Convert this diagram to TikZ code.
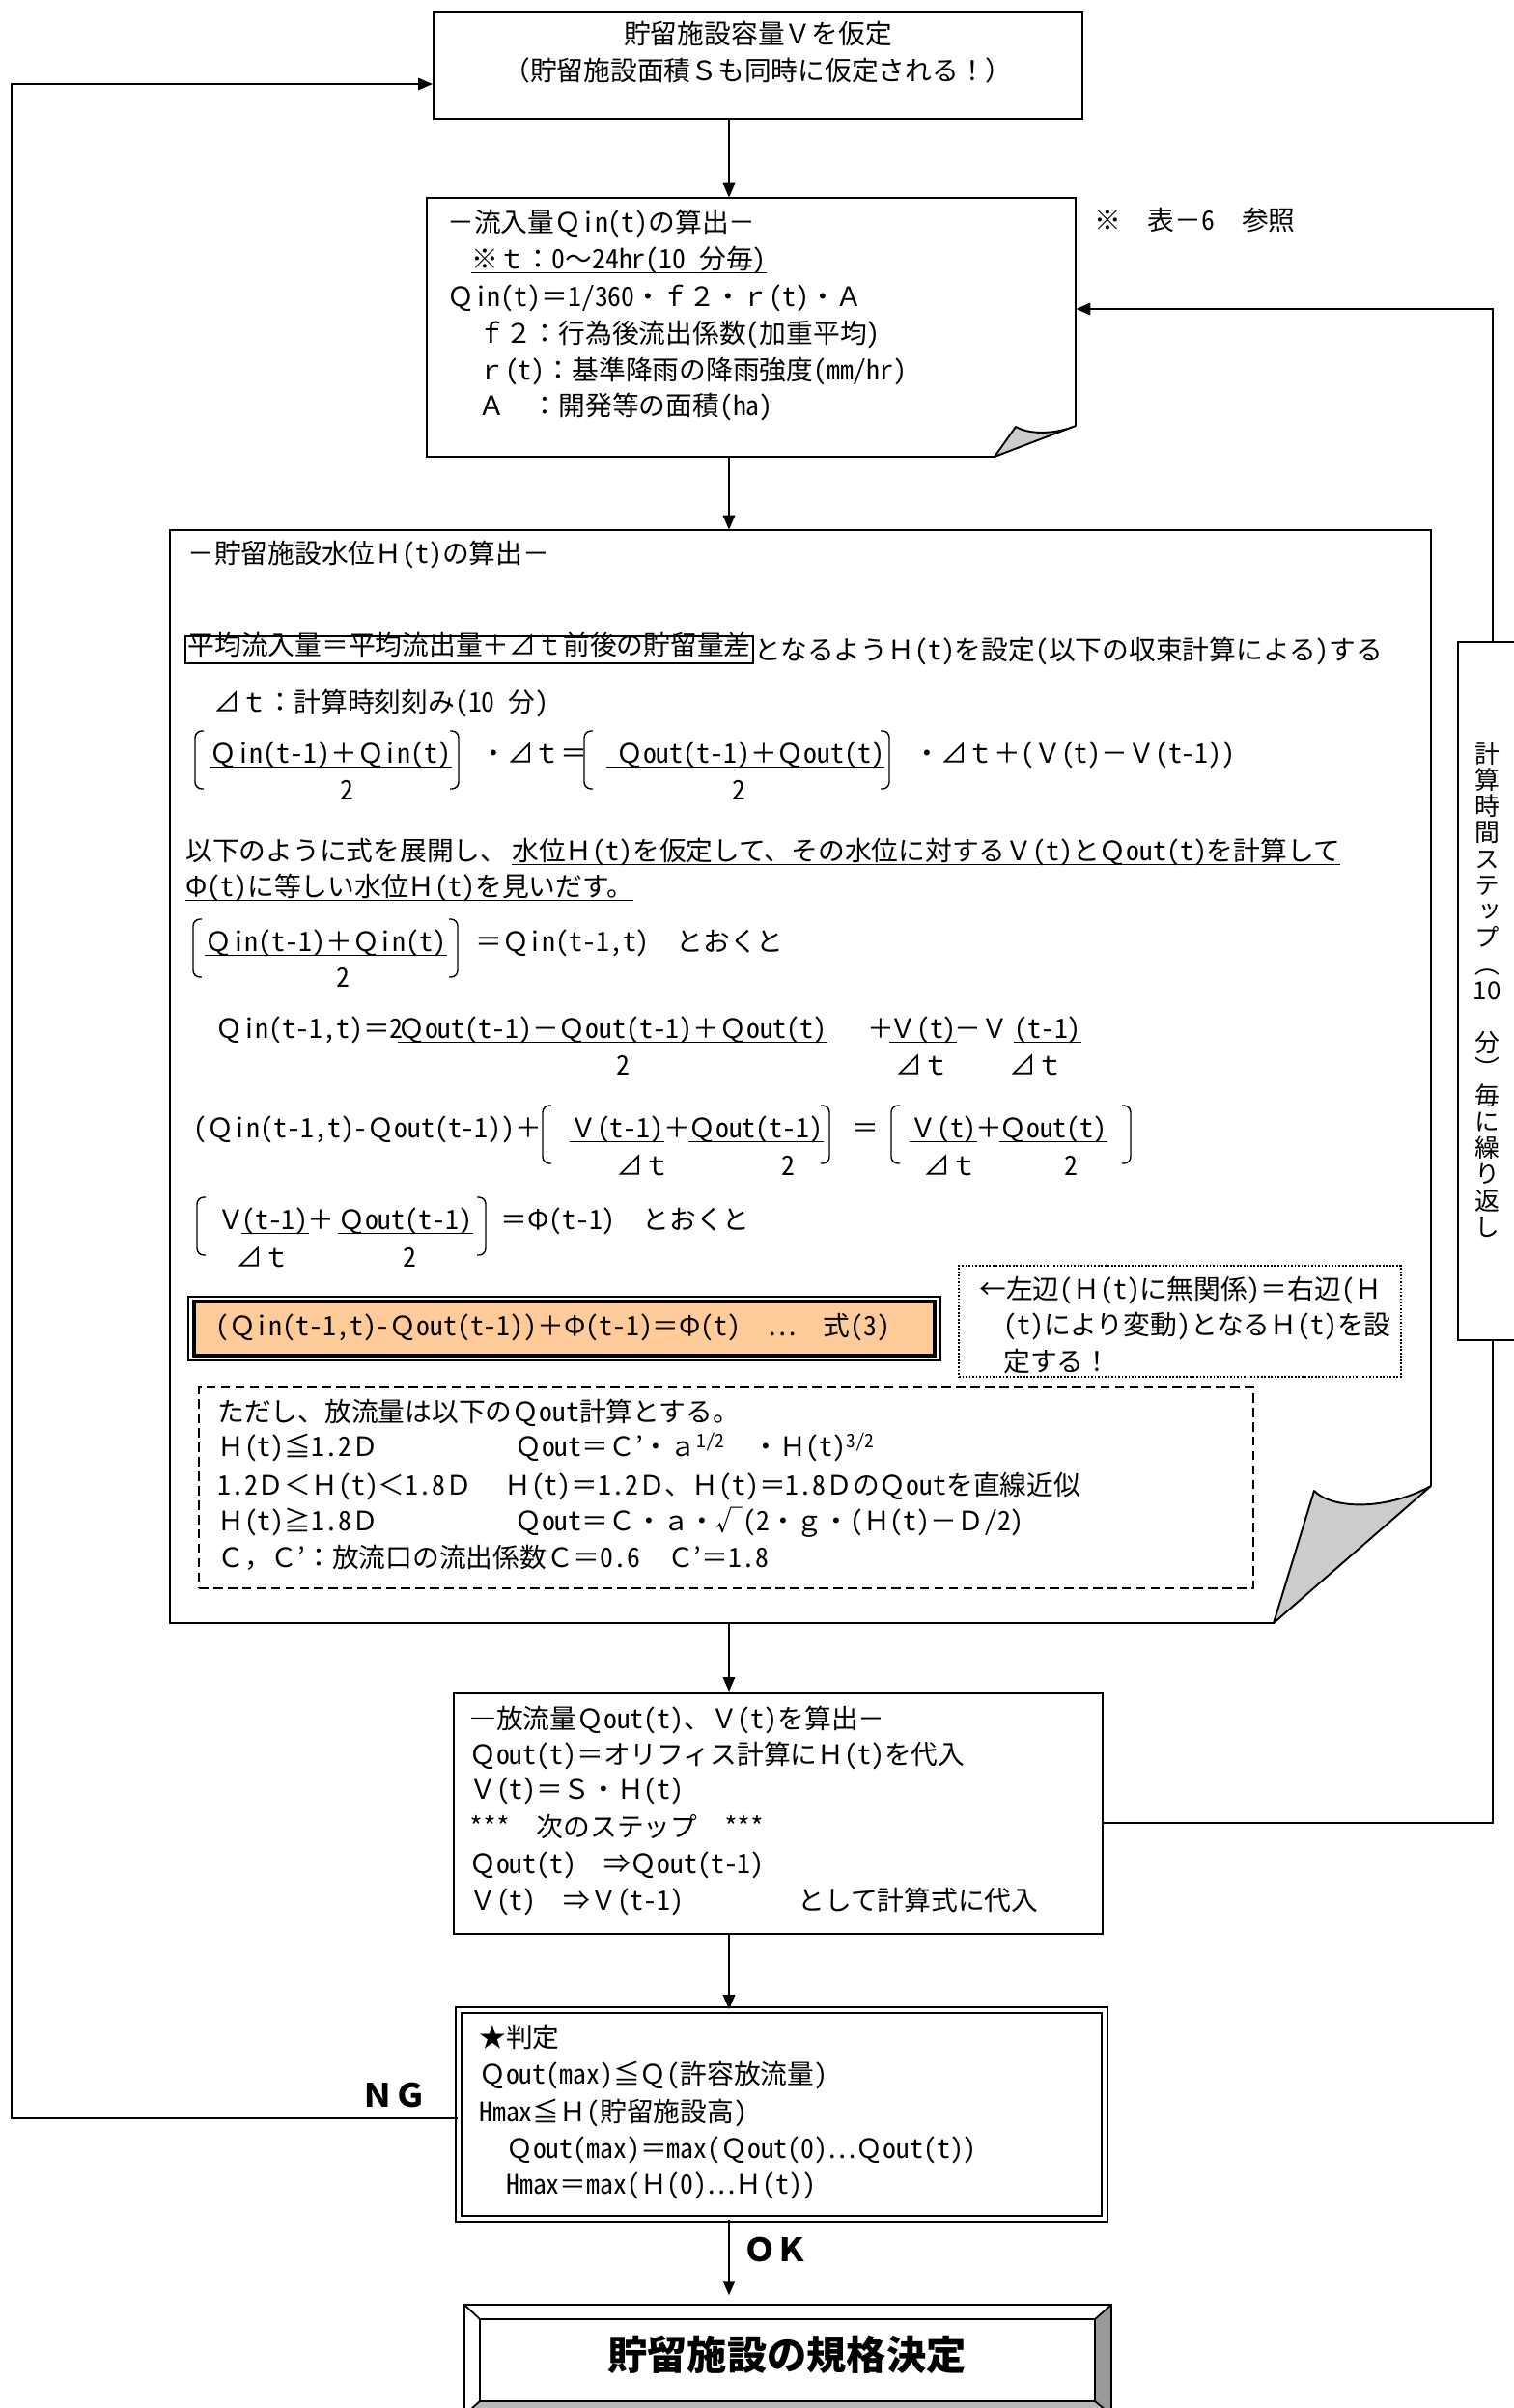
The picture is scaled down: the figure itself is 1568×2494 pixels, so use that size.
\documentclass[tikz,border=0pt]{standalone}
\usepackage{fontspec}
\setmainfont{Noto Sans CJK JP}
\newfontfamily\vertfont[RawFeature=+vert]{Noto Sans CJK JP}
\newfontfamily\hwfont[RawFeature=+hwid]{Noto Sans CJK JP}
\usetikzlibrary{arrows.meta,positioning,fit}
\definecolor{peach}{HTML}{FFCC99}
\newcommand{\bodyfont}{\fontsize{15.8pt}{21.8pt}\selectfont}
\newcommand{\hw}[1]{{\hwfont #1}}
\newcommand{\lbrk}[2]{\draw[brk] (#1+9,#2-23) -- (#1,#2-23) -- (#1,#2+37) -- (#1+9,#2+37);}
\newcommand{\rbrk}[2]{\draw[brk] (#1-9,#2-23) -- (#1,#2-23) -- (#1,#2+37) -- (#1-9,#2+37);}

\begin{document}
\begin{tikzpicture}[x=0.02cm, y=-0.02cm]

\tikzstyle{box}=[draw, line width=1.1pt, inner sep=0pt]
\tikzstyle{frame}=[inner sep=0pt]
\tikzstyle{txt}=[anchor=west, inner sep=0pt, text height=0.8em, text depth=0.2em, yshift=-3pt, font=\bodyfont]
\tikzstyle{ctr}=[txt, anchor=center]
\tikzstyle{ul}=[append after command={(\tikzlastnode.south west) edge[draw, line width=0.9pt] (\tikzlastnode.south east)}]
\tikzstyle{arrow}=[-{Triangle[length=8.5pt,width=7pt]}, line width=1.2pt]
\tikzstyle{brk}=[line width=0.8pt, rounded corners=4pt]
\tikzstyle{fold}=[draw, line width=1.1pt, fill=gray!40, line join=round]
\tikzstyle{sign}=[inner sep=0pt, font=\fontsize{19pt}{22pt}\selectfont\bfseries]

\fill[white] (0,0) rectangle (1568,2494);
\path[use as bounding box] (0,0) rectangle (1568,2494);

\coordinate (spine) at (755,0);

\node (assume) [box, fit={(449,12) (1121,123)}] {};
\node (assume1) [ctr] at (785,35) {貯留施設容量Ｖを仮定};
\node (assume2) [ctr] at (785,73) {（貯留施設面積Ｓも同時に仮定される！）};

\node (inflow) [frame, fit={(442,205) (1114,473)}] {};
\draw[line width=1.1pt] (1114,441) -- (1114,205) -- (442,205) -- (442,473) -- (1030,473);
\draw[fold] (1030,473) -- (1052,442) .. controls (1068,451) and (1095,449) .. (1114,441) -- cycle;
\node (in1) [txt] at (463,230) {－流入量Ｑ\hw{in(t)}の算出－};
\node (in2) [txt, ul] at (488,268) {※ｔ：\hw{0}～\hw{24hr(10 }分毎\hw{)}};
\node (in3) [txt] at (463,307) {Ｑ\hw{in(t)}＝\hw{1/360}・ｆ２・ｒ\hw{(t)}・Ａ};
\node (in4) [txt] at (495,345) {ｆ２：行為後流出係数\hw{(}加重平均\hw{)}};
\node (in5) [txt] at (495,383) {ｒ\hw{(t)}：基準降雨の降雨強度\hw{(mm/hr)}};
\node (in6) [txt] at (495,420) {Ａ　：開発等の面積\hw{(ha)}};
\node (tabref) [txt] at (1133,228) {※　表－\hw{6}　参照};

\node (level) [frame, fit={(176,549) (1482,1681)}] {};
\draw[line width=1.1pt] (1482,1539) -- (1482,549) -- (176,549) -- (176,1681) -- (1319,1681);
\draw[fold] (1319,1681) -- (1361,1544) .. controls (1378,1562) and (1432,1566) .. (1482,1539) -- cycle;

\node (lv1) [txt] at (194,573) {－貯留施設水位Ｈ\hw{(t)}の算出－};
\node (balance) [txt, draw, line width=1.1pt, inner xsep=1.5pt, inner ysep=3pt] at (191,668) {平均流入量＝平均流出量＋⊿ｔ前後の貯留量差};
\node (balance2) [txt, right=0pt of balance] {となるようＨ\hw{(t)}を設定\hw{(}以下の収束計算による\hw{)}する};
\node (dt) [txt] at (221,727) {⊿ｔ：計算時刻刻み\hw{(10 }分\hw{)}};

\node (f1a) [txt, ul] at (217,780) {Ｑ\hw{in(t-1)}＋Ｑ\hw{in(t)}};
\node (f1a2) [ctr] at (359,818) {\hw{2}};
\node (f1b) [txt] at (497,780) {・⊿ｔ＝};
\node (f1c) [txt, ul] at (628,780) {\hspace{0.2cm}Ｑ\hw{out(t-1)}＋Ｑ\hw{out(t)}};
\node (f1c2) [ctr] at (765,818) {\hw{2}};
\node (f1d) [txt] at (946,780) {・⊿ｔ＋\hw{(}Ｖ\hw{(t)}－Ｖ\hw{(t-1))}};
\lbrk{202}{780} \rbrk{475}{780} \lbrk{605}{780} \rbrk{921}{780}

\node (ex1) [txt] at (192,881) {以下のように式を展開し、};
\node (ex2) [txt, ul] at (530,881) {水位Ｈ\hw{(t)}を仮定して、その水位に対するＶ\hw{(t)}とＱ\hw{out(t)}を計算して};
\node (ex3) [txt, ul] at (192,918) {Φ\hw{(t)}に等しい水位Ｈ\hw{(t)}を見いだす。};

\node (f2a) [txt, ul] at (212,975) {Ｑ\hw{in(t-1)}＋Ｑ\hw{in(t)}};
\node (f2a2) [ctr] at (355,1012) {\hw{2}};
\node (f2b) [txt] at (492,975) {＝Ｑ\hw{in(t-1,t)}　とおくと};
\lbrk{200}{975} \rbrk{474}{975}

\node (f3a) [txt] at (223,1065) {Ｑ\hw{in(t-1,t)}＝\hw{2}};
\node (f3b) [txt, ul] at (412,1065) {Ｑ\hw{out(t-1)}－Ｑ\hw{out(t-1)}＋Ｑ\hw{out(t)}\hspace{0.4cm}};
\node (f3b2) [ctr] at (645,1103) {\hw{2}};
\node (f3c) [txt] at (898,1065) {＋};
\node (f3d) [txt, ul] at (921,1065) {Ｖ\hw{(t)}};
\node (f3d2) [ctr] at (955,1103) {⊿ｔ};
\node (f3e) [txt] at (988,1065) {－Ｖ};
\node (f3f) [txt, ul] at (1050,1065) {\hw{(t-1)}};
\node (f3f2) [ctr] at (1073,1103) {⊿ｔ};

\node (f4a) [txt] at (200,1168) {\hw{(}Ｑ\hw{in(t-1,t)-}Ｑ\hw{out(t-1))}＋};
\node (f4b) [txt, ul] at (590,1168) {Ｖ\hw{(t-1)}};
\node (f4b2) [ctr] at (666,1207) {⊿ｔ};
\node (f4c) [txt] at (687,1168) {＋};
\node (f4d) [txt, ul] at (713,1168) {Ｑ\hw{out(t-1)}};
\node (f4d2) [ctr] at (816,1207) {\hw{2}};
\node (f4e) [txt] at (882,1168) {＝};
\node (f4f) [txt, ul] at (942,1168) {Ｖ\hw{(t)}};
\node (f4f2) [ctr] at (984,1207) {⊿ｔ};
\node (f4g) [txt] at (1010,1168) {＋};
\node (f4h) [txt, ul] at (1035,1168) {Ｑ\hw{out(t)}};
\node (f4h2) [ctr] at (1109,1207) {\hw{2}};
\lbrk{562}{1168} \rbrk{859}{1168} \lbrk{923}{1168} \rbrk{1171}{1168}

\node (f5a) [txt] at (225,1263) {Ｖ};
\node (f5b) [txt, ul] at (250,1263) {\hw{(t-1)}};
\node (f5b2) [ctr] at (272,1302) {⊿ｔ};
\node (f5c) [txt] at (318,1263) {＋};
\node (f5d) [txt, ul] at (350,1263) {Ｑ\hw{out(t-1)}};
\node (f5d2) [ctr] at (424,1302) {\hw{2}};
\node (f5e) [txt] at (518,1263) {＝Φ\hw{(t-1)}　とおくと};
\lbrk{204}{1263} \rbrk{503}{1263}

\node (key) [box, line width=0.8pt, fit={(195,1343) (974,1409)}] {};
\draw[line width=2pt, fill=peach] (201,1348) rectangle (968,1404);
\node (keytxt) [txt] at (223,1373) {\hw{(}Ｑ\hw{in(t-1,t)-}Ｑ\hw{out(t-1))}＋Φ\hw{(t-1)}＝Φ\hw{(t)}　⋯　式\hw{(3)}};

\node (note) [box, line width=0.8pt, dash pattern=on 1pt off 1pt, fit={(993,1311) (1451,1426)}] {};
\node (note1) [txt] at (1014,1335) {←左辺\hw{(}Ｈ\hw{(t)}に無関係\hw{)}＝右辺\hw{(}Ｈ};
\node (note2) [txt] at (1039,1372) {\hw{(t)}により変動\hw{)}となるＨ\hw{(t)}を設};
\node (note3) [txt] at (1039,1410) {定する！};

\node (rule) [box, line width=1pt, dash pattern=on 5.5pt off 3pt, fit={(206,1437) (1298,1645)}] {};
\node (rule1) [txt] at (225,1462) {ただし、放流量は以下のＱ\hw{out}計算とする。};
\node (rule2) [txt] at (225,1498) {Ｈ\hw{(t)}≦\hw{1.2}Ｄ};
\node (rule2b) [txt] at (533,1498) {Ｑ\hw{out}＝Ｃ’・ａ\textsuperscript{\hw{1/2}}　・Ｈ\hw{(t)}\textsuperscript{\hw{3/2}}};
\node (rule3) [txt] at (225,1538) {\hw{1.2}Ｄ＜Ｈ\hw{(t)}＜\hw{1.8}Ｄ};
\node (rule3b) [txt] at (522,1538) {Ｈ\hw{(t)}＝\hw{1.2}Ｄ、Ｈ\hw{(t)}＝\hw{1.8}ＤのＱ\hw{out}を直線近似};
\node (rule4) [txt] at (225,1575) {Ｈ\hw{(t)}≧\hw{1.8}Ｄ};
\node (rule4b) [txt] at (533,1575) {Ｑ\hw{out}＝Ｃ・ａ・√\hw{(2}・ｇ・\hw{(}Ｈ\hw{(t)}－Ｄ\hw{/2)}};
\node (rule5) [txt] at (225,1613) {Ｃ，Ｃ’：放流口の流出係数Ｃ＝\hw{0.6}　Ｃ’＝\hw{1.8}};

\node (outflow) [box, fit={(470,1753) (1142,2003)}] {};
\node (out1) [txt] at (486,1780) {―放流量Ｑ\hw{out(t)}、Ｖ\hw{(t)}を算出－};
\node (out2) [txt] at (486,1817) {Ｑ\hw{out(t)}＝オリフィス計算にＨ\hw{(t)}を代入};
\node (out3) [txt] at (486,1853) {Ｖ\hw{(t)}＝Ｓ・Ｈ\hw{(t)}};
\node (out4) [txt] at (486,1892) {\hw{***}　次のステップ　\hw{***}};
\node (out5) [txt] at (486,1930) {Ｑ\hw{out(t)}　⇒Ｑ\hw{out(t-1)}};
\node (out6) [txt] at (486,1968) {Ｖ\hw{(t)}　⇒Ｖ\hw{(t-1)}};
\node (out7) [txt] at (826,1968) {として計算式に代入};

\node (judge) [draw, line width=1pt, double, double distance=2.5pt, inner sep=0pt, fit={(475,2082) (1144,2298)}] {};
\node (jd1) [txt] at (496,2110) {★判定};
\node (jd2) [txt] at (496,2148) {Ｑ\hw{out(max)}≦Ｑ\hw{(}許容放流量\hw{)}};
\node (jd3) [txt] at (496,2187) {\hw{Hmax}≦Ｈ\hw{(}貯留施設高\hw{)}};
\node (jd4) [txt] at (524,2225) {Ｑ\hw{out(max)}＝\hw{max(}Ｑ\hw{out(0)}⋯Ｑ\hw{out(t))}};
\node (jd5) [txt] at (524,2262) {\hw{Hmax}＝\hw{max(}Ｈ\hw{(0)}⋯Ｈ\hw{(t))}};

\fill[gray!80] (1151,2387) -- (1134,2402) -- (1134,2487) -- (1151,2501) -- cycle;
\fill[gray!55] (481,2501) -- (497,2487) -- (1134,2487) -- (1151,2501) -- cycle;
\node (result) [box, line width=1pt, fit={(481,2387) (1151,2501)}] {};
\node (resulttxt) [ctr, font=\fontsize{23.5pt}{28pt}\selectfont\bfseries] at (815,2444) {貯留施設の規格決定};
\draw[line width=1pt] (497,2402) rectangle (1134,2487);
\draw[line width=1pt] (481,2387) -- (497,2402) (1151,2387) -- (1134,2402) (481,2501) -- (497,2487) (1151,2501) -- (1134,2487);

\draw[arrow] (assume.south -| spine) -- (inflow.north -| spine);
\draw[arrow] (inflow.south -| spine) -- (level.north -| spine);
\draw[arrow] (level.south -| spine) -- (outflow.north -| spine);
\draw[arrow] (outflow.south -| spine) -- (judge.north -| spine);
\draw[arrow, shorten >=5pt] (judge.south -| spine) -- node (ok) [sign, anchor=west, pos=0.36, xshift=8pt] {ＯＫ} (result.north -| spine);

\coordinate (backtop) at (1546,320);
\coordinate (backbot) at (1546,1888);
\draw[arrow] (backbot -| outflow.east) -- (backbot) -- (backtop) -- (backtop -| inflow.east);
\node (loop) [box, fill=white, fit={(1510,665) (1600,1388)}] {};
\node (looptxt) [inner sep=0pt, align=center, font=\vertfont\fontsize{14.7pt}{15.5pt}\selectfont] at (1540,1025) {計\\算\\時\\間\\ス\\テ\\ッ\\プ\\（\\10\\\mbox{}\\分\\）\\毎\\に\\繰\\り\\返\\し};

\coordinate (ngtop) at (12,87);
\coordinate (ngbot) at (12,2194);
\draw[arrow] (ngbot -| judge.west) -- (ngbot) -- (ngtop) -- (ngtop -| assume.west);
\node (ng) [sign] at (408,2170) {ＮＧ};

\end{tikzpicture}
\end{document}
